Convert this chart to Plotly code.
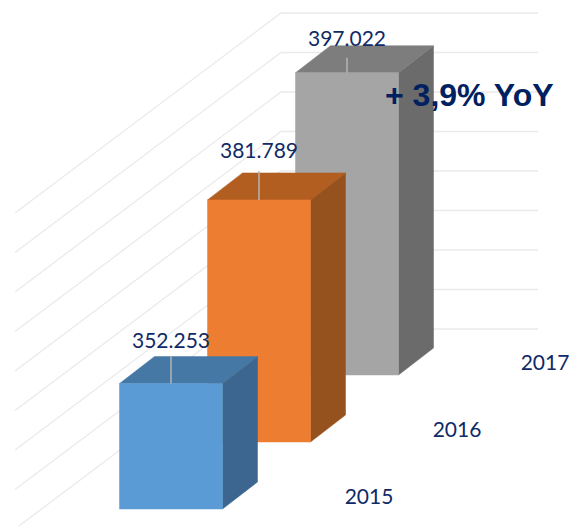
import plotly.graph_objects as go

years = ["2015", "2016", "2017"]
values = [352.253, 381.789, 397.022]
value_labels = ["352.253", "381.789", "397.022"]
grid_values = [320, 330, 340, 350, 360, 370, 380, 390, 400]
front_colors = ["#5B9BD5", "#ED7D31", "#A5A5A5"]
top_colors = ["#4678A6", "#B35E21", "#7D7D7D"]
side_colors = ["#3C668F", "#96521E", "#6B6B6B"]

W, H = 576, 526
BASE = 320.5
PX_CAT = 88.0      # px per category step
PX_VAL = 3.95      # px per value unit
CAT_RISE = 67.0    # px rise per category step
DEPTH_X, DEPTH_Y = 35.0, 27.0
HALF_W = 51.5 / PX_CAT
ORIGIN_X, ORIGIN_Y = 171.0, 509.0
TEXT = "#0F2A66"
LABEL_GAP = [41, 47, 32]
LEADER = [27, 29, 15]


def proj(c, s, d, v):
    """Oblique projection of (category, side offset, depth, value) to plot coordinates."""
    return c + s + d * DEPTH_X / PX_CAT, v + (c * CAT_RISE + d * DEPTH_Y) / PX_VAL


def poly(points, color):
    xs, ys = zip(*points)
    return go.Scatter(x=list(xs) + [xs[0]], y=list(ys) + [ys[0]], mode="lines", fill="toself",
                      fillcolor=color, line=dict(color=color, width=0.5), hoverinfo="skip", showlegend=False)


fig = go.Figure()

# back wall and side wall gridlines
WALL_SHIFT = 182.0
for g in grid_values:
    fig.add_trace(go.Scatter(
        x=[(15 - ORIGIN_X) / PX_CAT, (281 - ORIGIN_X) / PX_CAT, (538 - ORIGIN_X) / PX_CAT],
        y=[g + (WALL_SHIFT - 200) / PX_VAL, g + WALL_SHIFT / PX_VAL, g + WALL_SHIFT / PX_VAL],
        mode="lines", line=dict(color="#EAEAEA", width=1.3), hoverinfo="skip", showlegend=False))

# bars, back to front
for i in [2, 1, 0]:
    v = values[i]
    l, r = -HALF_W, HALF_W
    fig.add_trace(poly([proj(i, r, 0, BASE), proj(i, r, 1, BASE), proj(i, r, 1, v), proj(i, r, 0, v)], side_colors[i]))
    fig.add_trace(poly([proj(i, l, 0, v), proj(i, r, 0, v), proj(i, r, 1, v), proj(i, l, 1, v)], top_colors[i]))
    fig.add_trace(poly([proj(i, l, 0, BASE), proj(i, r, 0, BASE), proj(i, r, 0, v), proj(i, l, 0, v)], front_colors[i]))
    # leader line from the bar's top edge
    lx, ly0 = proj(i, 0, 0, v)
    fig.add_trace(go.Scatter(x=[lx, lx], y=[ly0, ly0 + LEADER[i] / PX_VAL], mode="lines",
                             line=dict(color="#B4B4B4", width=1.5), hoverinfo="skip", showlegend=False))

# data labels
label_x, label_y = [], []
for i, v in enumerate(values):
    x, y = proj(i, 0, 0, v)
    label_x.append(x)
    label_y.append(y + LABEL_GAP[i] / PX_VAL)
fig.add_trace(go.Scatter(x=label_x, y=label_y, mode="text", text=value_labels,
                         textfont=dict(family="Lato", size=21, color=TEXT),
                         textposition="middle center", hoverinfo="skip", showlegend=False))

# category labels on the floor
cat_x, cat_y = [], []
for i in range(len(years)):
    cat_x.append(i + 198 / PX_CAT)
    cat_y.append(BASE + (i * CAT_RISE + 10.5) / PX_VAL)
fig.add_trace(go.Scatter(x=cat_x, y=cat_y, mode="text", text=years,
                         textfont=dict(family="Lato", size=21, color=TEXT),
                         textposition="middle center", hoverinfo="skip", showlegend=False))

fig.add_annotation(x=469 / W, y=1 - 95 / H, xref="paper", yref="paper", text="<b>+ 3,9% YoY</b>", showarrow=False,
                   xanchor="center", yanchor="middle",
                   font=dict(family="Liberation Sans", size=32, color="#002060"))

fig.update_layout(
    width=W, height=H, margin=dict(l=0, r=0, t=0, b=0), paper_bgcolor="white", plot_bgcolor="white",
    showlegend=False,
    xaxis=dict(range=[-ORIGIN_X / PX_CAT, (W - ORIGIN_X) / PX_CAT], visible=False, fixedrange=True),
    yaxis=dict(range=[BASE - (H - ORIGIN_Y) / PX_VAL, BASE + ORIGIN_Y / PX_VAL], visible=False, fixedrange=True),
)
fig.write_html("out.html", config=dict(displayModeBar=False),
               post_script="document.body.style.margin='0';document.body.style.overflow='hidden';")
